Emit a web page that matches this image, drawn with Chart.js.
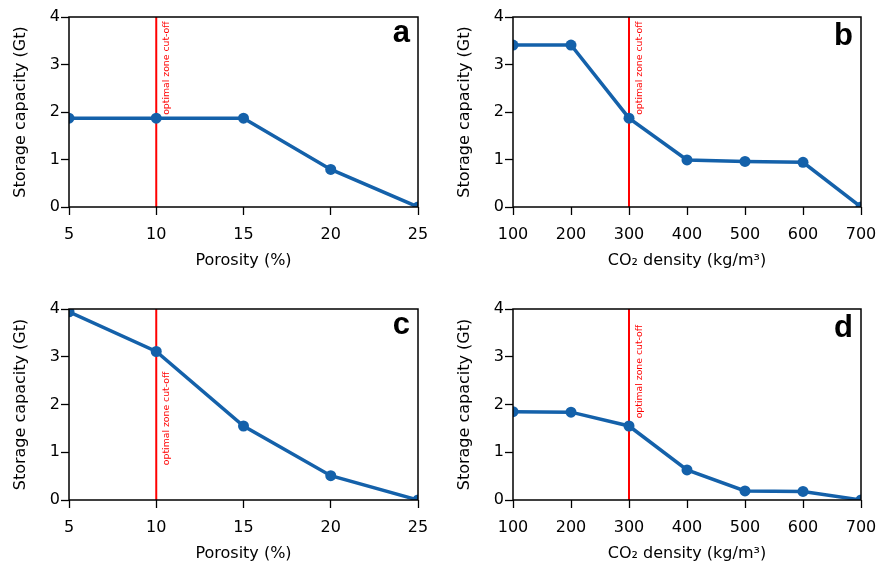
<!DOCTYPE html>
<html>
<head>
<meta charset="utf-8">
<script src="https://cdn.jsdelivr.net/npm/chart.js@4.4.1/dist/chart.umd.min.js"></script>
<style>
  html, body { margin: 0; padding: 0; background: #fff; }
  #wrap { position: relative; width: 878px; height: 564px; overflow: hidden; }
  #wrap canvas { position: absolute; }
</style>
</head>
<body>
<div id="wrap"></div>
<script>
// Sensitivity of storage capacity to porosity and CO2 density
const porosity = [5, 10, 15, 20, 25];
const density = [100, 200, 300, 400, 500, 600, 700];

const capacityA = [1.87, 1.87, 1.87, 0.79, 0];
const capacityB = [3.41, 3.41, 1.87, 0.99, 0.96, 0.94, 0];
const capacityC = [3.94, 3.11, 1.55, 0.51, 0];
const capacityD = [1.85, 1.84, 1.55, 0.63, 0.19, 0.18, 0];

const porosityTicks = [5, 10, 15, 20, 25];
const densityTicks = [100, 200, 300, 400, 500, 600, 700];
const capacityTicks = [0, 1, 2, 3, 4];

const porosityCutoff = 10;
const densityCutoff = 300;
const cutoffText = 'optimal zone cut-off';

const yTitle = 'Storage capacity (Gt)';
const porosityTitle = 'Porosity (%)';
const densityTitle = 'CO\u2082 density (kg/m\u00b3)';

const BLUE = '#1461aa';
const RED = '#ff0000';
const FONT = 'DejaVu Sans';

// page geometry of each panel: canvas box and plot rectangle
const panels = [
  { letter: 'a', xs: porosity, ys: capacityA, xTicks: porosityTicks, cutoff: porosityCutoff,
    xTitle: porosityTitle, textAt: 1.94,
    box: { left: 0, top: 0, width: 439, height: 290 },
    plot: { left: 69, right: 418, top: 17, bottom: 207 } },
  { letter: 'b', xs: density, ys: capacityB, xTicks: densityTicks, cutoff: densityCutoff,
    xTitle: densityTitle, textAt: 1.94,
    box: { left: 439, top: 0, width: 439, height: 290 },
    plot: { left: 513, right: 861, top: 17, bottom: 207 } },
  { letter: 'c', xs: porosity, ys: capacityC, xTicks: porosityTicks, cutoff: porosityCutoff,
    xTitle: porosityTitle, textAt: 0.73,
    box: { left: 0, top: 290, width: 439, height: 274 },
    plot: { left: 69, right: 418, top: 309, bottom: 500 } },
  { letter: 'd', xs: density, ys: capacityD, xTicks: densityTicks, cutoff: densityCutoff,
    xTitle: densityTitle, textAt: 1.71,
    box: { left: 439, top: 290, width: 439, height: 274 },
    plot: { left: 513, right: 861, top: 309, bottom: 500 } }
];

Chart.defaults.font.family = FONT;
Chart.defaults.color = '#000';

// vertical cut-off line with its rotated note, under the data
const cutoffPlugin = {
  id: 'cutoff',
  beforeDatasetsDraw(chart, args, opts) {
    const { ctx, chartArea } = chart;
    const x = chart.scales.x.getPixelForValue(opts.value);
    ctx.save();
    ctx.strokeStyle = RED;
    ctx.lineWidth = 2;
    ctx.beginPath();
    ctx.moveTo(x, chartArea.top);
    ctx.lineTo(x, chartArea.bottom);
    ctx.stroke();
    const y = chart.scales.y.getPixelForValue(opts.textAt);
    ctx.translate(x + 12.5, y);
    ctx.rotate(-Math.PI / 2);
    ctx.font = '9.3px "' + FONT + '"';
    ctx.fillStyle = RED;
    ctx.textAlign = 'left';
    ctx.textBaseline = 'alphabetic';
    ctx.fillText(cutoffText, 0, 0);
    ctx.restore();
  }
};

// full box frame and the panel letter
const framePlugin = {
  id: 'frame',
  afterDatasetsDraw(chart, args, opts) {
    const { ctx, chartArea: a } = chart;
    ctx.save();
    ctx.strokeStyle = '#000';
    ctx.lineWidth = 1.5;
    ctx.strokeRect(a.left, a.top, a.right - a.left, a.bottom - a.top);
    ctx.font = 'bold 31px "Liberation Sans"';
    ctx.fillStyle = '#000';
    ctx.textAlign = 'right';
    ctx.textBaseline = 'alphabetic';
    const m = ctx.measureText(opts.letter);
    const cy = a.top + 16.5;
    const base = cy + (m.actualBoundingBoxAscent - m.actualBoundingBoxDescent) / 2;
    ctx.fillText(opts.letter, a.right - 8, base);
    ctx.restore();
  }
};

const wrap = document.getElementById('wrap');

panels.forEach(p => {
  const cv = document.createElement('canvas');
  cv.width = p.box.width;
  cv.height = p.box.height;
  cv.style.left = p.box.left + 'px';
  cv.style.top = p.box.top + 'px';
  cv.style.width = p.box.width + 'px';
  cv.style.height = p.box.height + 'px';
  wrap.appendChild(cv);

  const yAxisWidth = p.plot.left - p.box.left;
  const xAxisHeight = p.box.top + p.box.height - p.plot.bottom;
  const titleFont = 16;
  const lh = titleFont * 1.2;
  const xTitleCenter = p.plot.bottom + 53.5;
  const xTitlePad = (p.box.top + p.box.height - xTitleCenter) - lh / 2;
  const yTitleCenter = p.plot.left - 48 - p.box.left;
  const yTitlePad = yTitleCenter - lh / 2;

  new Chart(cv, {
    type: 'line',
    data: {
      datasets: [{
        data: p.xs.map((x, i) => ({ x: x, y: p.ys[i] })),
        borderColor: BLUE,
        backgroundColor: BLUE,
        borderWidth: 3.5,
        pointRadius: 5.5,
        pointBackgroundColor: BLUE,
        pointBorderWidth: 0,
        tension: 0,
        clip: 0
      }]
    },
    options: {
      responsive: false,
      animation: false,
      events: [],
      layout: {
        padding: {
          left: 0,
          top: p.plot.top - p.box.top,
          right: p.box.left + p.box.width - p.plot.right,
          bottom: 0
        }
      },
      plugins: {
        legend: { display: false },
        tooltip: { enabled: false },
        cutoff: { value: p.cutoff, textAt: p.textAt },
        frame: { letter: p.letter }
      },
      scales: {
        x: {
          type: 'linear',
          min: p.xTicks[0],
          max: p.xTicks[p.xTicks.length - 1],
          afterBuildTicks: s => { s.ticks = p.xTicks.map(v => ({ value: v })); },
          afterFit: s => { s.height = xAxisHeight; s.paddingLeft = 0; s.paddingRight = 0; },
          grid: { display: true, drawOnChartArea: false, drawTicks: true,
                  tickLength: 8, tickWidth: 1.3, tickColor: '#000' },
          border: { display: false },
          ticks: { font: { size: 16 }, color: '#000', padding: 10, maxRotation: 0, autoSkip: false },
          title: { display: true, text: p.xTitle, color: '#000',
                   font: { size: titleFont }, padding: { top: 0, bottom: xTitlePad } }
        },
        y: {
          type: 'linear',
          min: capacityTicks[0],
          max: capacityTicks[capacityTicks.length - 1],
          afterBuildTicks: s => { s.ticks = capacityTicks.map(v => ({ value: v })); },
          afterFit: s => { s.width = yAxisWidth; s.paddingTop = 0; s.paddingBottom = 0; },
          grid: { display: true, drawOnChartArea: false, drawTicks: true,
                  tickLength: 8, tickWidth: 1.3, tickColor: '#000' },
          border: { display: false },
          ticks: { font: { size: 16 }, color: '#000', padding: 1 },
          title: { display: true, text: yTitle, color: '#000',
                   font: { size: titleFont }, padding: { top: yTitlePad, bottom: 0 } }
        }
      }
    },
    plugins: [cutoffPlugin, framePlugin]
  });
});
</script>
</body>
</html>
